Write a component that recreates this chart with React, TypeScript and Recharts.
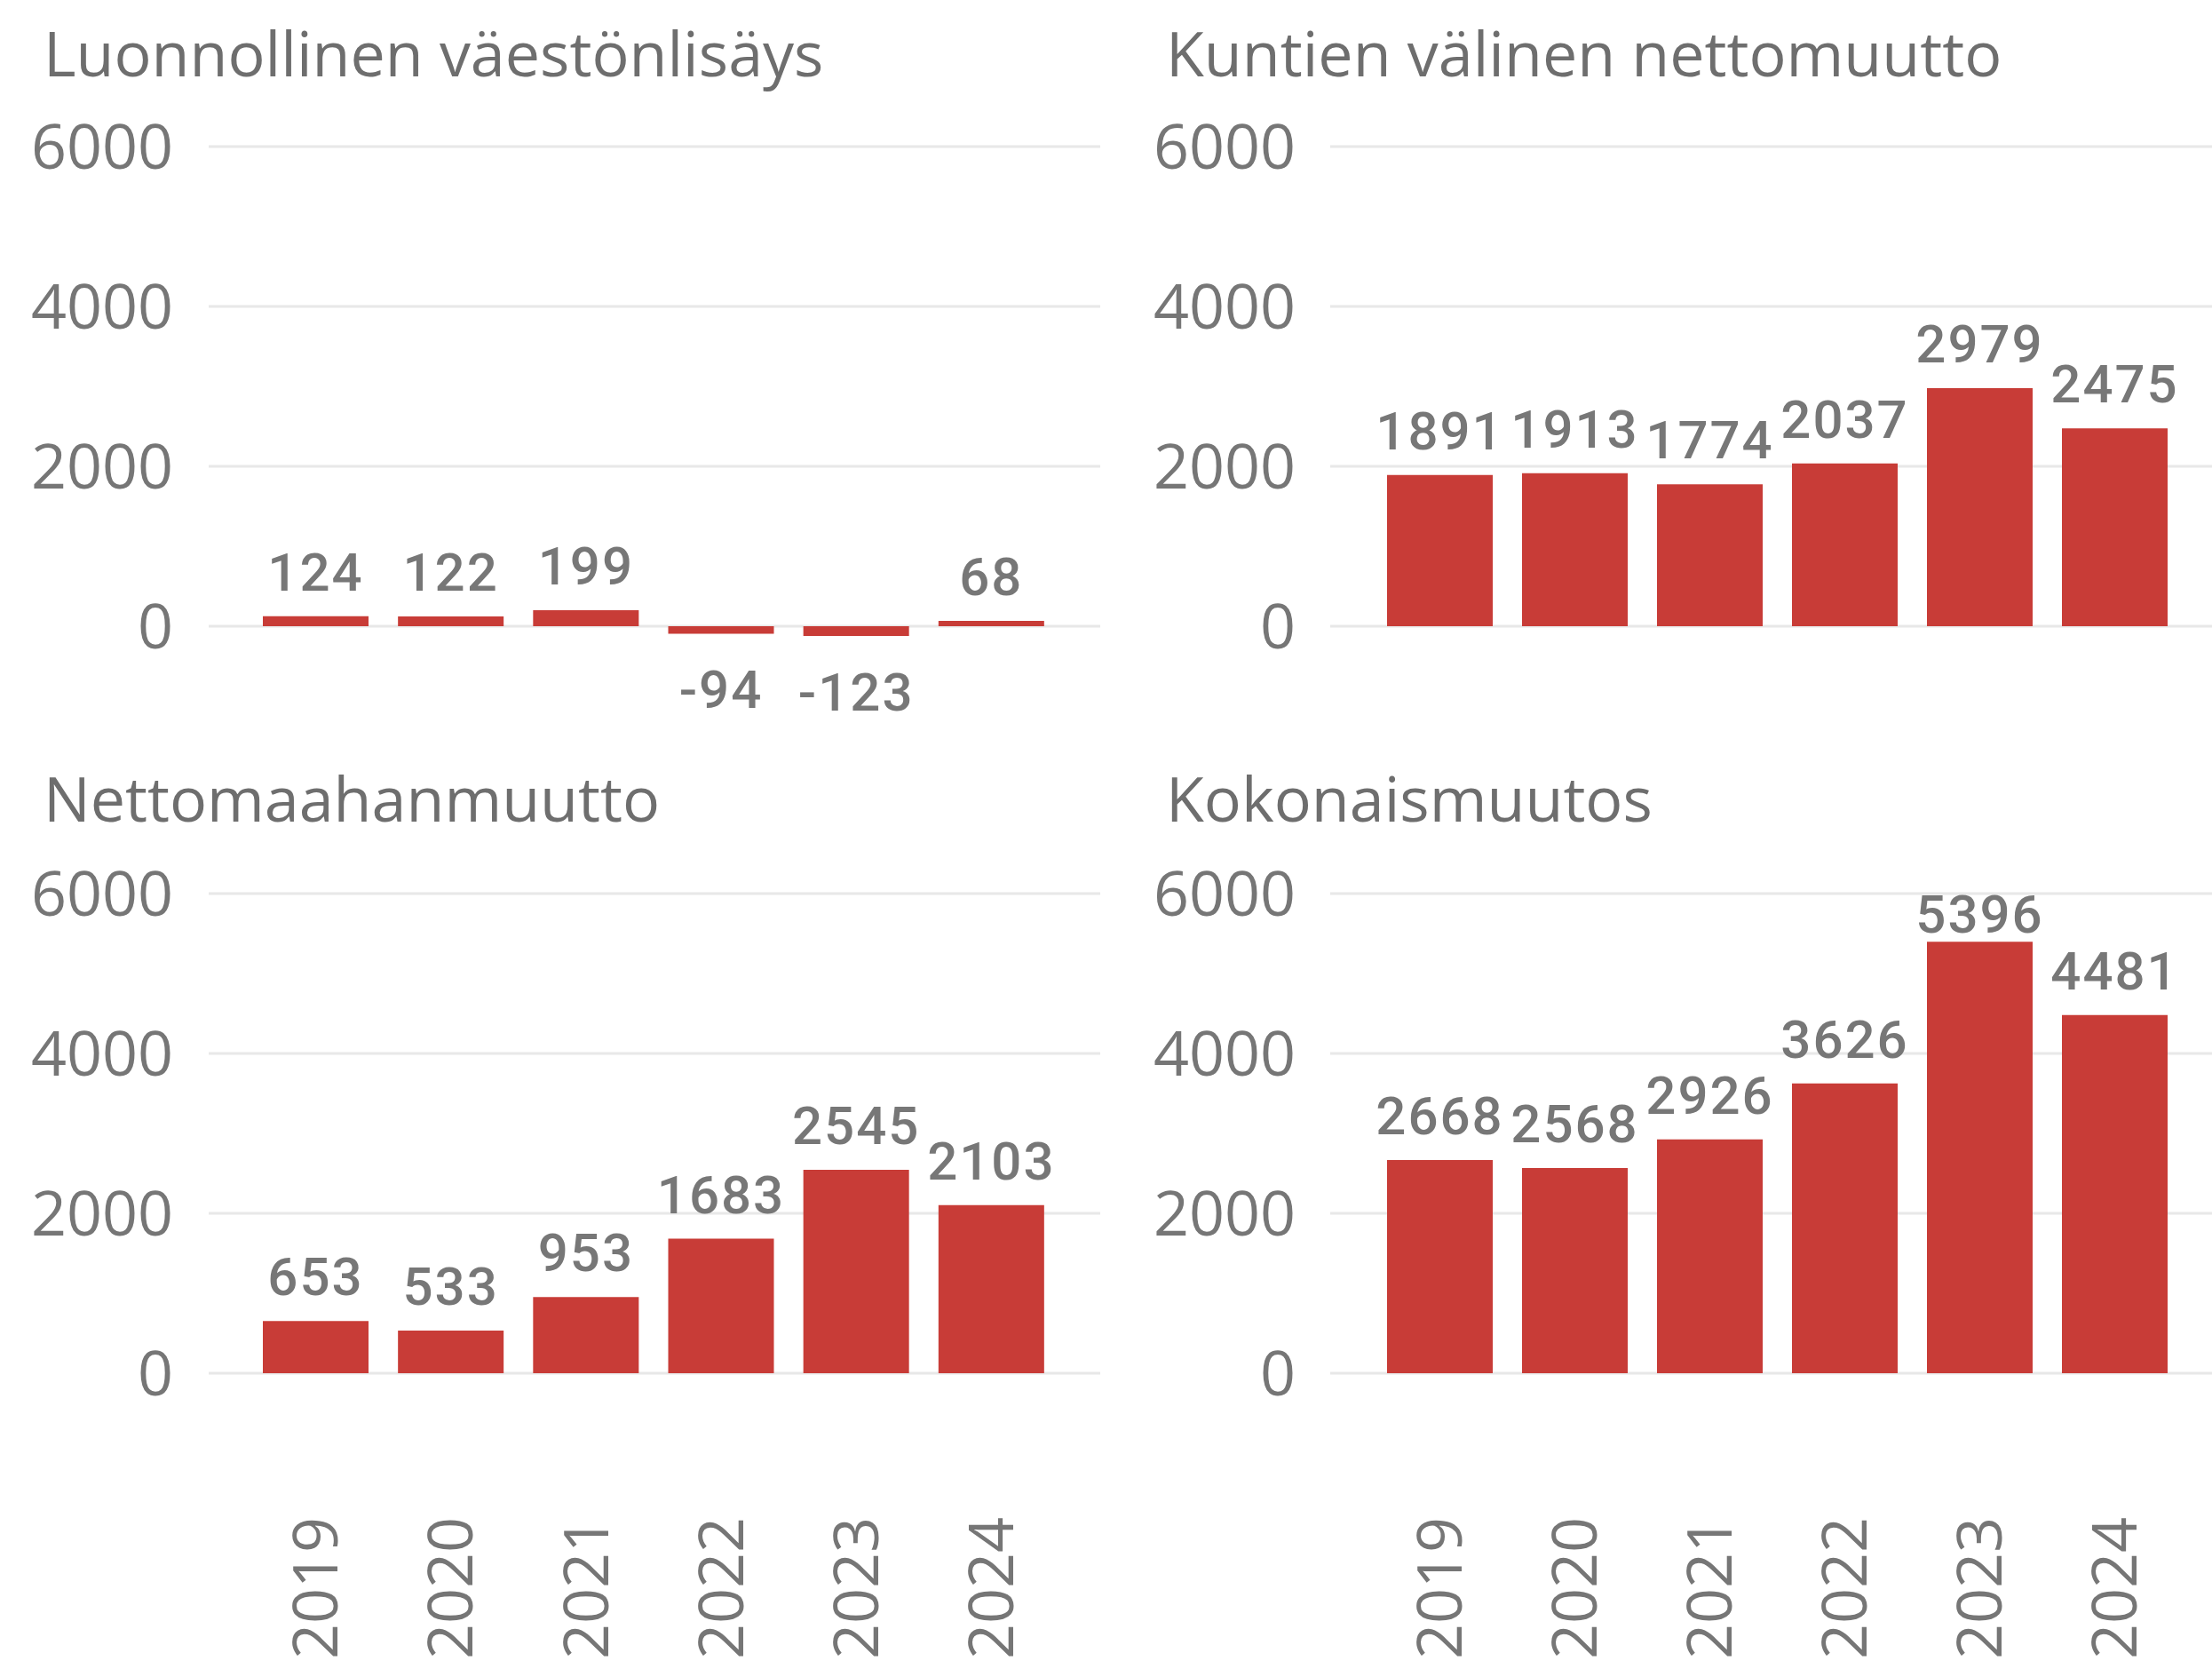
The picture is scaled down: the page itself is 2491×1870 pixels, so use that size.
import React from 'react';
import { BarChart, Bar, XAxis, YAxis, CartesianGrid } from 'recharts';

const years = ['2019', '2020', '2021', '2022', '2023', '2024'];
const luonnollinen = [124, 122, 199, -94, -123, 68];
const kuntien = [1891, 1913, 1774, 2037, 2979, 2475];
const nettomaahanmuutto = [653, 533, 953, 1683, 2545, 2103];
const kokonais = [2668, 2568, 2926, 3626, 5396, 4481];
const yTicks = [0, 2000, 4000, 6000];

const RED = '#C83C37';
const GREY = '#767676';
const PLOT_TOP = 65;
const PLOT_H = 594;

function renderLabel(props: any) {
  const { x, y, width, height, value } = props;
  const cx = Number(x) + Number(width) / 2;
  const top = Math.min(Number(y), Number(y) + Number(height));
  const bottom = Math.max(Number(y), Number(y) + Number(height));
  let by;
  if (value >= 0) by = Math.max(top - 29, PLOT_TOP + 44);
  else by = bottom + 84;
  return (
    <text
      x={cx}
      y={by}
      textAnchor="middle"
      fill="#777777"
      fontFamily="Roboto"
      fontWeight={500}
      fontSize={60}
      letterSpacing={2}
    >
      {value}
    </text>
  );
}

function YearTick(props: any) {
  const { x, y, payload } = props;
  return (
    <g transform={`translate(${x},${y})`}>
      <text
        transform="rotate(-90)"
        textAnchor="end"
        dy="0.36em"
        fill={GREY}
        fontFamily="Open Sans"
        fontSize={70}
      >
        {payload.value}
      </text>
    </g>
  );
}

// skip the line at the bottom edge of the plot, keep the value ticks
function gridLine(p: any) {
  const y = Number(p.y1);
  if (Math.abs(y - (PLOT_TOP + PLOT_H)) < 2) return <g key={p.key} />;
  return (
    <line key={p.key} x1={p.x1} y1={p.y1} x2={p.x2} y2={p.y2} stroke="#e8e8e8" strokeWidth={3} fill="none" />
  );
}

function Panel({ title, values, left, top, width, yWidth, padL, padR, mRight, tickMargin, showYears, titleLeft, titleTop }: any) {
  const data = years.map((y, i) => ({ year: y, value: values[i] }));
  const xH = showYears ? 268 : 0;
  const h = PLOT_TOP + PLOT_H + (showYears ? xH : 60);
  return (
    <>
      <div
        style={{
          position: 'absolute',
          left: titleLeft,
          top: titleTop,
          fontFamily: 'Open Sans',
          fontSize: 70,
          lineHeight: '70px',
          color: '#6e6e6e',
          whiteSpace: 'nowrap',
        }}
      >
        {title}
      </div>
      <div style={{ position: 'absolute', left, top }}>
        <BarChart
          width={width}
          height={h}
          data={data}
          margin={{ top: PLOT_TOP, right: mRight, left: 0, bottom: showYears ? 0 : 60 }}
          style={{ overflow: 'visible' }}
        >
          <CartesianGrid vertical={false} stroke="#e8e8e8" strokeWidth={3} horizontal={gridLine} />
          <XAxis
            dataKey="year"
            hide={!showYears}
            height={xH}
            interval={0}
            axisLine={false}
            tickLine={false}
            tickSize={0}
            tickMargin={108}
            padding={{ left: padL, right: padR }}
            tick={<YearTick />}
          />
          <YAxis
            type="number"
            domain={[-600, 6000]}
            ticks={yTicks}
            interval={0}
            width={yWidth}
            axisLine={false}
            tickLine={false}
            tickSize={0}
            tickMargin={tickMargin}
            tick={{ fill: GREY, fontSize: 70, fontFamily: 'Open Sans' }}
          />
          <Bar dataKey="value" fill={RED} barSize={119} isAnimationActive={false} label={renderLabel} />
        </BarChart>
      </div>
    </>
  );
}

export default function App() {
  const leftCol = { left: 0, width: 1245, yWidth: 235, padL: 44, padR: 47, mRight: 6, tickMargin: 40, titleLeft: 49 };
  const rightCol = { left: 1250, width: 1241, yWidth: 248, padL: 47, padR: 34, mRight: 0, tickMargin: 39, titleLeft: 1313 };
  return (
    <div
      style={{
        position: 'absolute',
        left: 0,
        top: 0,
        width: 2491,
        height: 1870,
        overflow: 'hidden',
        background: '#fff',
      }}
    >
      <Panel title="Luonnollinen väestönlisäys" values={luonnollinen} top={100} titleTop={24} {...leftCol} />
      <Panel title="Kuntien välinen nettomuutto" values={kuntien} top={100} titleTop={24} {...rightCol} />
      <Panel title="Nettomaahanmuutto" values={nettomaahanmuutto} top={941} titleTop={863} showYears {...leftCol} />
      <Panel title="Kokonaismuutos" values={kokonais} top={941} titleTop={863} showYears {...rightCol} />
    </div>
  );
}
